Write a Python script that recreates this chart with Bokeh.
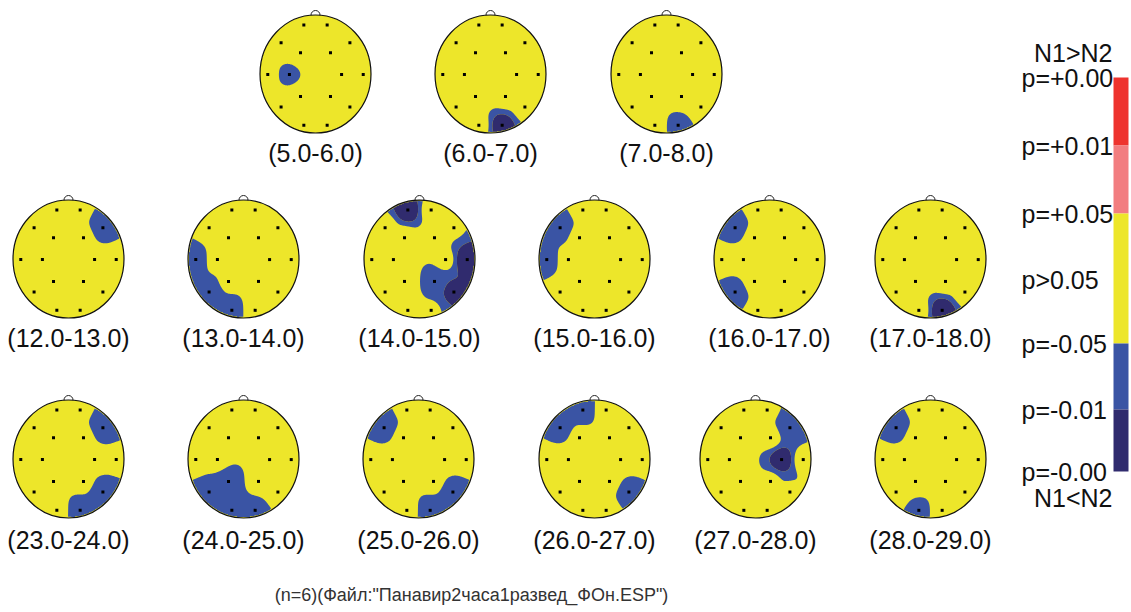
import numpy as np
from bokeh.plotting import figure
from bokeh.core.properties import value
from bokeh.embed import file_html
from bokeh.resources import INLINE

# ---------------- data ----------------
electrodes = ["Fp1", "Fp2", "F7", "F3", "F4", "F8", "T3", "C3",
              "C4", "T4", "T5", "P3", "P4", "T6", "O1", "O2"]
# montage (normalised head coordinates, x to the right, y toward the nose)
elec_u = [-0.21, 0.21, -0.62, -0.27, 0.27, 0.62, -0.86, -0.47,
          0.47, 0.86, -0.62, -0.27, 0.27, 0.62, -0.21, 0.21]
elec_v = [0.83, 0.83, 0.53, 0.36, 0.36, 0.53, -0.01, -0.01,
          -0.01, -0.01, -0.56, -0.38, -0.38, -0.56, -0.87, -0.87]

intervals = ["(5.0-6.0)", "(6.0-7.0)", "(7.0-8.0)",
             "(12.0-13.0)", "(13.0-14.0)", "(14.0-15.0)", "(15.0-16.0)", "(16.0-17.0)", "(17.0-18.0)",
             "(23.0-24.0)", "(24.0-25.0)", "(25.0-26.0)", "(26.0-27.0)", "(27.0-28.0)", "(28.0-29.0)"]

# significance score per electrode for N1<N2 (>=1 -> p<0.05, >=2 -> p<0.01)
#            Fp1  Fp2  F7   F3   F4   F8   T3   C3   C4   T4   T5   P3   P4   T6   O1   O2
sig_05_06 = [0.4, 0.4, 0.4, 0.4, 0.4, 0.4, 0.8, 1.3, 0.4, 0.4, 0.4, 0.4, 0.4, 0.4, 0.4, 0.4]
sig_06_07 = [0.4, 0.4, 0.4, 0.4, 0.4, 0.4, 0.4, 0.4, 0.4, 0.4, 0.4, 0.4, 0.4, 0.4, 0.4, 2.8]
sig_07_08 = [0.4, 0.4, 0.4, 0.4, 0.4, 0.4, 0.4, 0.4, 0.4, 0.4, 0.4, 0.4, 0.4, 0.4, 0.4, 1.6]
sig_12_13 = [0.4, 0.8, 0.4, 0.4, 0.4, 1.9, 0.4, 0.4, 0.4, 0.4, 0.4, 0.4, 0.4, 0.4, 0.4, 0.4]
sig_13_14 = [0.4, 0.4, 0.75, 0.4, 0.4, 0.4, 1.6, 0.5, 0.4, 0.4, 1.9, 0.7, 0.4, 0.4, 1.6, 0.4]
sig_14_15 = [3.0, 0.4, 0.4, 0.4, 0.4, 0.85, 0.4, 0.4, 0.6, 3.2, 0.4, 0.4, 1.6, 2.4, 0.4, 0.85]
sig_15_16 = [0.7, 0.4, 1.8, 0.5, 0.4, 0.4, 1.6, 0.5, 0.4, 0.4, 0.7, 0.4, 0.4, 0.4, 0.4, 0.4]
sig_16_17 = [0.7, 0.4, 1.8, 0.4, 0.4, 0.4, 0.5, 0.4, 0.4, 0.4, 1.8, 0.4, 0.4, 0.4, 0.7, 0.4]
sig_17_18 = [0.4, 0.4, 0.4, 0.4, 0.4, 0.4, 0.4, 0.4, 0.4, 0.4, 0.4, 0.4, 0.4, 0.4, 0.4, 3.0]
sig_23_24 = [0.4, 0.8, 0.4, 0.4, 0.4, 1.9, 0.4, 0.4, 0.4, 0.6, 0.4, 0.4, 0.5, 2.0, 0.4, 1.8]
sig_24_25 = [0.4, 0.4, 0.4, 0.4, 0.4, 0.4, 0.4, 0.4, 0.4, 0.4, 1.7, 2.0, 0.4, 0.4, 1.8, 1.6]
sig_25_26 = [0.8, 0.4, 1.9, 0.4, 0.4, 0.4, 0.4, 0.4, 0.4, 0.4, 0.4, 0.4, 0.4, 2.0, 0.4, 1.9]
sig_26_27 = [1.8, 0.4, 1.8, 0.5, 0.4, 0.4, 0.4, 0.4, 0.4, 0.6, 0.4, 0.4, 0.4, 1.8, 0.4, 0.5]
sig_27_28 = [0.4, 0.8, 0.4, 0.4, 0.4, 1.9, 0.4, 0.4, 3.0, 0.4, 0.4, 0.4, 0.7, 0.9, 0.4, 0.4]
sig_28_29 = [0.8, 0.4, 1.9, 0.4, 0.4, 0.4, 0.4, 0.4, 0.4, 0.4, 0.4, 0.4, 0.4, 0.4, 1.55, 0.4]

maps = [sig_05_06, sig_06_07, sig_07_08,
        sig_12_13, sig_13_14, sig_14_15, sig_15_16, sig_16_17, sig_17_18,
        sig_23_24, sig_24_25, sig_25_26, sig_26_27, sig_27_28, sig_28_29]

levels = [1.0, 2.0, 100.0]

cb_labels = ["p=+0.00", "p=+0.01", "p=+0.05", "p>0.05", "p=-0.05", "p=-0.01", "p=-0.00"]
cb_seg_from = [0, 1, 2, 4, 5]   # tick index where each colour segment starts
cb_seg_to = [1, 2, 4, 5, 6]

footer = '(n=6)(Файл:"Панавир2часа1развед_ФОн.ESP")'

# ---------------- layout / style ----------------
RED, PINK, YELLOW, BLUE, NAVY = "#EE332E", "#F27D80", "#EDE62A", "#3A54A4", "#302B6E"
cb_colors = [RED, PINK, YELLOW, BLUE, NAVY]

head_cx = [315, 490, 666,
           68, 243, 419, 594, 769, 930,
           68, 243, 418, 594, 755, 930]
row_cy = [73.5, 258.5, 458.5]
row_label_y = [152, 337, 539]
head_row = [0, 0, 0, 1, 1, 1, 1, 1, 1, 2, 2, 2, 2, 2, 2]
RX, RY = 55.5, 59.0
POWER = 3.0

cb_tick_y = [77, 145, 213, 279, 343, 409, 471]
cb_x0, cb_x1 = 1113, 1128

FONT = value("Liberation Sans")

p = figure(width=1131, height=612, x_range=(0, 1131), y_range=(612, 0),
           output_backend="svg", toolbar_location=None, min_border=0)
p.axis.visible = False
p.grid.visible = False
p.outline_line_color = None
p.background_fill_color = "white"

eu = np.array(elec_u)
ev = np.array(elec_v)

n = 181
g = np.linspace(-1.0, 1.0, n)
U, V = np.meshgrid(g, g)
R = np.hypot(U, V)
d = np.sqrt((U[..., None] - eu) ** 2 + (V[..., None] - ev) ** 2)
W = 1.0 / np.maximum(d, 1e-4) ** POWER
Wsum = W.sum(axis=-1)

cy_list = [row_cy[r] for r in head_row]
ly_list = [row_label_y[r] for r in head_row]

# nose (drawn first, lower half hidden by the head)
p.ellipse(x=head_cx, y=[c - RY for c in cy_list], width=9, height=9,
          fill_color="white", line_color="#222222", line_width=1)

# yellow base heads
p.ellipse(x=head_cx, y=cy_list, width=2 * RX, height=2 * RY,
          fill_color=YELLOW, line_color=None)

for cx, cy, vals in zip(head_cx, cy_list, maps):
    Z = (W @ np.array(vals, dtype=float)) / Wsum
    Z = np.where(R <= 0.985, Z, 0.0)
    Z = np.clip(Z, 0, 99)
    X = cx + U * RX
    Y = cy - V * RY
    p.contour(X, Y, Z, levels=levels, fill_color=[BLUE, NAVY], line_color=None)

# outlines
p.ellipse(x=head_cx, y=cy_list, width=2 * RX, height=2 * RY,
          fill_color=None, line_color="#111111", line_width=1.2)

# electrodes
ex, ey = [], []
for cx, cy in zip(head_cx, cy_list):
    ex.extend(list(cx + eu * RX))
    ey.extend(list(cy - ev * RY))
p.scatter(x=ex, y=ey, marker="square", size=3, fill_color="black", line_color=None)

# labels
p.text(x=head_cx, y=ly_list, text=intervals, text_font=FONT,
       text_font_size=value("25px"), text_align="center", text_baseline="middle",
       text_color="#111111")

# colour bar
p.quad(left=cb_x0, right=cb_x1,
       top=[cb_tick_y[i] for i in cb_seg_from],
       bottom=[cb_tick_y[i] for i in cb_seg_to],
       fill_color=cb_colors, line_color=None)
p.text(x=1021, y=cb_tick_y, text=cb_labels, text_font=FONT,
       text_font_size=value("25px"), text_align="left", text_baseline="middle",
       text_color="#111111")
p.text(x=[1112, 1112], y=[52, 497], text=["N1>N2", "N1<N2"], text_font=FONT,
       text_font_size=value("25px"), text_align="right", text_baseline="middle",
       text_color="#111111")

# footer
p.text(x=[471], y=[594], text=[footer], text_font=FONT,
       text_font_size=value("18px"), text_align="center", text_baseline="middle",
       text_color="#333333")

open("out.html", "w").write(file_html(p, INLINE))
